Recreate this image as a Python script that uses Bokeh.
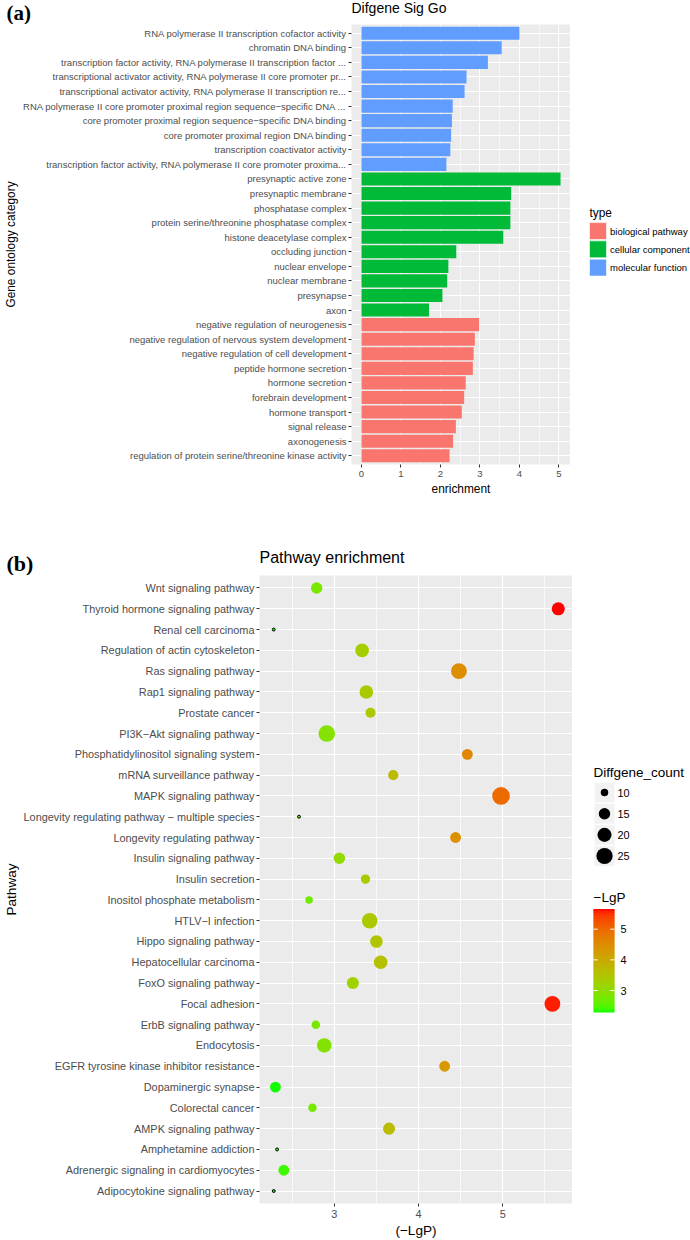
import numpy as np
from bokeh.plotting import figure
from bokeh.models import (ColumnDataSource, FactorRange, Range1d, FixedTicker,
                          LinearColorMapper)
from bokeh.layouts import column, row
from bokeh.embed import file_html
from bokeh.resources import INLINE
from bokeh.core.properties import value
from bokeh.transform import transform

FONT = "Liberation Sans"
SERIF = "Liberation Serif"

# ---------------- Panel (a) data (top to bottom) ----------------
go_terms = [
    "RNA polymerase II transcription cofactor activity",
    "chromatin DNA binding",
    "transcription factor activity, RNA polymerase II transcription factor ...",
    "transcriptional activator activity, RNA polymerase II core promoter pr...",
    "transcriptional activator activity, RNA polymerase II transcription re...",
    "RNA polymerase II core promoter proximal region sequence\u2212specific DNA ...",
    "core promoter proximal region sequence\u2212specific DNA binding",
    "core promoter proximal region DNA binding",
    "transcription coactivator activity",
    "transcription factor activity, RNA polymerase II core promoter proxima...",
    "presynaptic active zone",
    "presynaptic membrane",
    "phosphatase complex",
    "protein serine/threonine phosphatase complex",
    "histone deacetylase complex",
    "occluding junction",
    "nuclear envelope",
    "nuclear membrane",
    "presynapse",
    "axon",
    "negative regulation of neurogenesis",
    "negative regulation of nervous system development",
    "negative regulation of cell development",
    "peptide hormone secretion",
    "hormone secretion",
    "forebrain development",
    "hormone transport",
    "signal release",
    "axonogenesis",
    "regulation of protein serine/threonine kinase activity",
]
go_enrichment = [4.00, 3.55, 3.20, 2.66, 2.61, 2.31, 2.29, 2.27, 2.25, 2.15,
                 5.04, 3.79, 3.77, 3.77, 3.59, 2.40, 2.20, 2.17, 2.05, 1.71,
                 2.98, 2.87, 2.84, 2.82, 2.64, 2.60, 2.54, 2.39, 2.32, 2.23]
go_type = (["molecular function"] * 10 + ["cellular component"] * 10
           + ["biological pathway"] * 10)
type_levels = ["biological pathway", "cellular component", "molecular function"]
type_colors = ["#F8766D", "#00BA38", "#619CFF"]
enrich_ticks = [0, 1, 2, 3, 4, 5]

# ---------------- Panel (b) data (top to bottom) ----------------
pathways = [
    "Wnt signaling pathway",
    "Thyroid hormone signaling pathway",
    "Renal cell carcinoma",
    "Regulation of actin cytoskeleton",
    "Ras signaling pathway",
    "Rap1 signaling pathway",
    "Prostate cancer",
    "PI3K\u2212Akt signaling pathway",
    "Phosphatidylinositol signaling system",
    "mRNA surveillance pathway",
    "MAPK signaling pathway",
    "Longevity regulating pathway \u2212 multiple species",
    "Longevity regulating pathway",
    "Insulin signaling pathway",
    "Insulin secretion",
    "Inositol phosphate metabolism",
    "HTLV\u2212I infection",
    "Hippo signaling pathway",
    "Hepatocellular carcinoma",
    "FoxO signaling pathway",
    "Focal adhesion",
    "ErbB signaling pathway",
    "Endocytosis",
    "EGFR tyrosine kinase inhibitor resistance",
    "Dopaminergic synapse",
    "Colorectal cancer",
    "AMPK signaling pathway",
    "Amphetamine addiction",
    "Adrenergic signaling in cardiomyocytes",
    "Adipocytokine signaling pathway",
]
neg_lgp = [2.79, 5.66, 2.28, 3.33, 4.48, 3.38, 3.43, 2.91, 4.58, 3.70,
           4.98, 2.58, 4.44, 3.06, 3.37, 2.70, 3.42, 3.50, 3.55, 3.22,
           5.59, 2.78, 2.88, 4.31, 2.30, 2.74, 3.65, 2.32, 2.40, 2.28]
diffgene_count = [15, 18, 8, 19, 24, 19, 13, 26, 14, 13,
                  29, 8, 14, 15, 12, 10, 23, 17, 19, 16,
                  24, 11, 21, 14, 14, 11, 16, 8, 14, 8]
lgp_ticks = [3, 4, 5]
lgp_minor = [2.5, 3.5, 4.5, 5.5]
size_breaks = [10, 15, 20, 25]

# ---------------- colour / size scales ----------------
M = np.array([[0.4124564, 0.3575761, 0.1804375],
              [0.2126729, 0.7151522, 0.0721750],
              [0.0193339, 0.1191920, 0.9503041]])
WP = np.array([0.95047, 1.0, 1.08883])


def to_lab(rgb):
    c = np.array(rgb, dtype=float) / 255.0
    lin = np.where(c <= 0.04045, c / 12.92, ((c + 0.055) / 1.055) ** 2.4)
    t = (M @ lin) / WP
    d = 6 / 29
    f = np.where(t > d ** 3, np.cbrt(t), t / (3 * d * d) + 4 / 29)
    return np.array([116 * f[1] - 16, 500 * (f[0] - f[1]), 200 * (f[1] - f[2])])


def from_lab(lab):
    L, a, b = lab
    fy = (L + 16) / 116
    f = np.array([fy + a / 500, fy, fy - b / 200])
    d = 6 / 29
    t = np.where(f > d, f ** 3, 3 * d * d * (f - 4 / 29))
    lin = np.clip(np.linalg.inv(M) @ (t * WP), 0, 1)
    c = np.where(lin <= 0.0031308, 12.92 * lin, 1.055 * lin ** (1 / 2.4) - 0.055)
    c = np.clip(c, 0, 1)
    return "#%02x%02x%02x" % tuple(int(round(v * 255)) for v in c)


lab_lo, lab_hi = to_lab((0, 255, 0)), to_lab((255, 0, 0))
palette = [from_lab(lab_lo + (lab_hi - lab_lo) * s) for s in np.linspace(0, 1, 256)]

cmin, cmax = min(diffgene_count), max(diffgene_count)


def size_px(c):
    c = np.asarray(c, dtype=float)
    return 2.95 * (1 + 5 * np.sqrt((c - cmin) / (cmax - cmin)))


def blank(width, height, bottom=0):
    f = figure(width=width, height=height, output_backend="svg", toolbar_location=None,
               x_range=Range1d(0, width), y_range=Range1d(0, height - bottom),
               x_axis_type=None, y_axis_type=None, min_border=0,
               min_border_bottom=bottom)
    f.outline_line_color = None
    f.background_fill_color = "white"
    f.border_fill_color = "white"
    f.grid.visible = False
    return f


def txt(f, x, y, s, size, font=FONT, style="normal", color="black"):
    f.text(x=[x], y=[y], text=[s], text_font=value(font), text_font_size=f"{size}px",
           text_font_style=style, text_baseline="middle", text_align="left",
           text_color=color)


def style_axes(p, tick_px, title_px, tick_len):
    for ax in (p.xaxis[0], p.yaxis[0]):
        ax.axis_line_color = None
        ax.major_tick_line_color = "#333333"
        ax.major_tick_out = tick_len
        ax.major_tick_in = 0
        ax.minor_tick_line_color = None
        ax.major_label_text_font = FONT
        ax.major_label_text_font_size = f"{tick_px}px"
        ax.major_label_text_color = "#4D4D4D"
        ax.major_label_standoff = 2
        ax.axis_label_text_font = FONT
        ax.axis_label_text_font_size = f"{title_px}px"
        ax.axis_label_text_font_style = "normal"
        ax.axis_label_text_color = "black"
        ax.axis_label_standoff = 2
    p.background_fill_color = "#EBEBEB"
    p.border_fill_color = "white"
    p.outline_line_color = None
    p.xgrid.grid_line_color = "white"
    p.ygrid.grid_line_color = "white"
    p.xgrid.minor_grid_line_color = "white"


W = 690
HDR_A, H_A, HDR_B, H_B = 24, 474, 77, 665
BOT_A, BOT_B = 32, 35   # bottom (axis) borders of the two panels

# ---------------- Panel (a) ----------------
hdr_a = blank(W, HDR_A)
txt(hdr_a, 6, 12, "(a)", 21, SERIF, "bold")
txt(hdr_a, 351, 16.5, "Difgene Sig Go", 14)

emax = max(go_enrichment)
W_PA = 570
pa = figure(width=W_PA, height=H_A, output_backend="svg", toolbar_location=None,
            y_range=FactorRange(factors=go_terms[::-1], range_padding=0.2 / len(go_terms)),
            x_range=Range1d(-0.05 * emax, 1.05 * emax),
            min_border_left=351, min_border_right=0, min_border_top=0,
            min_border_bottom=BOT_A)
style_axes(pa, 9.5, 11.9, 3)
pa.xaxis.ticker = FixedTicker(ticks=enrich_ticks,
                              minor_ticks=[t + 0.5 for t in enrich_ticks[:-1]])
pa.xaxis.axis_label = "enrichment"
pa.yaxis.axis_label = "Gene ontology category"
pa.xgrid.grid_line_width = 1.1
pa.ygrid.grid_line_width = 1.1
pa.xgrid.minor_grid_line_width = 0.6

for lvl, col in zip(type_levels, type_colors):
    idx = [i for i, t in enumerate(go_type) if t == lvl]
    src = ColumnDataSource(dict(term=[go_terms[i] for i in idx],
                                enrichment=[go_enrichment[i] for i in idx]))
    pa.hbar(y="term", right="enrichment", left=0, height=0.9, source=src,
            fill_color=col, line_color=None)

# legend for (a) (coordinates: pixels of the panel frame, 0 = frame bottom)
lg_a = blank(W - W_PA, H_A, BOT_A)
yca = (H_A - BOT_A) / 2
key_ya = [yca + 13.5 - 18.35 * i for i in range(len(type_levels))]
src_la = ColumnDataSource(dict(x=[27.5] * 3, y=key_ya, c=type_colors, lab=type_levels,
                               lx=[39.5] * 3))
lg_a.rect(x="x", y="y", width=17, height=17, fill_color="c", line_color="white",
          line_width=0.6, source=src_la)
lg_a.text(x="lx", y="y", text="lab", source=src_la, text_font=value(FONT),
          text_font_size="9.5px", text_baseline="middle", text_align="left",
          text_color="black")
txt(lg_a, 19, yca + 31.5, "type", 11.9)

# ---------------- Panel (b) ----------------
hdr_b = blank(W, HDR_B)
txt(hdr_b, 6, 12.5, "(b)", 22, SERIF, "bold")
txt(hdr_b, 259, 18, "Pathway enrichment", 16)

lmin, lmax = min(neg_lgp), max(neg_lgp)
span = lmax - lmin
mapper = LinearColorMapper(palette=palette, low=lmin, high=lmax)
W_PB = 572
pb = figure(width=W_PB, height=H_B, output_backend="svg", toolbar_location=None,
            y_range=FactorRange(factors=pathways[::-1], range_padding=0.2 / len(pathways)),
            x_range=Range1d(lmin - 0.05 * span, lmax + 0.05 * span),
            min_border_left=259, min_border_right=0, min_border_top=0,
            min_border_bottom=BOT_B)
style_axes(pb, 10.9, 13.6, 3)
pb.xaxis.ticker = FixedTicker(ticks=lgp_ticks, minor_ticks=lgp_minor)
pb.xaxis.axis_label = "(\u2212LgP)"
pb.yaxis.axis_label = "Pathway"
pb.xgrid.grid_line_width = 1.2
pb.ygrid.grid_line_width = 1.2
pb.xgrid.minor_grid_line_width = 0.7

src_b = ColumnDataSource(dict(
    pathway=pathways, lgp=neg_lgp, count=diffgene_count,
    size=list(size_px(diffgene_count)),
    outline=[1.0 if c == cmin else 0.0 for c in diffgene_count]))
pb.scatter(x="lgp", y="pathway", size="size", source=src_b,
           fill_color=transform("lgp", mapper), line_color="black",
           line_alpha="outline", line_width=1)

# legends for (b): size legend + colour bar (frame pixel coordinates)
lg_b = blank(W - W_PB, H_B, BOT_B)
ycb = (H_B - BOT_B) / 2
key_yb = [ycb + 97.2 - 21.2 * i for i in range(len(size_breaks))]
src_lb = ColumnDataSource(dict(x=[32] * len(size_breaks), y=key_yb,
                               size=list(size_px(size_breaks)),
                               lab=[str(b) for b in size_breaks],
                               lx=[45] * len(size_breaks)))
lg_b.rect(x="x", y="y", width=21, height=21, source=src_lb, fill_color="#F2F2F2",
          line_color="white", line_width=1)
lg_b.scatter(x="x", y="y", size="size", source=src_lb, fill_color="black", line_color=None)
lg_b.text(x="lx", y="y", text="lab", source=src_lb, text_font=value(FONT),
          text_font_size="10.9px", text_baseline="middle", text_align="left",
          text_color="black")
txt(lg_b, 21, ycb + 117.8, "Diffgene_count", 13.5)

# colour bar drawn from the same colour mapper (overlapping slices, no seams)
bar_x0, bar_w, bar_h = 21, 21, 104
bar_y0 = ycb - 123.5
n_slices = 52
step = bar_h / n_slices
v = lmin + (np.arange(n_slices) + 0.5) / n_slices * span
src_cb = ColumnDataSource(dict(v=list(v),
                               bottom=list(bar_y0 + np.arange(n_slices) * step),
                               top=list(np.minimum(bar_y0 + (np.arange(n_slices) + 1) * step + 1.2,
                                                   bar_y0 + bar_h))))
lg_b.quad(left=bar_x0, right=bar_x0 + bar_w, bottom="bottom", top="top", source=src_cb,
          fill_color=transform("v", mapper), line_color=None)
tick_y = [bar_y0 + (t - lmin) / span * bar_h for t in lgp_ticks]
lg_b.segment(x0=[bar_x0] * 3, x1=[bar_x0 + 4.2] * 3, y0=tick_y, y1=tick_y,
             line_color="white", line_width=1)
lg_b.segment(x0=[bar_x0 + bar_w - 4.2] * 3, x1=[bar_x0 + bar_w] * 3, y0=tick_y, y1=tick_y,
             line_color="white", line_width=1)
lg_b.text(x=[bar_x0 + bar_w + 6] * 3, y=tick_y, text=[str(t) for t in lgp_ticks],
          text_font=value(FONT), text_font_size="10.9px", text_baseline="middle",
          text_align="left", text_color="black")
txt(lg_b, 21, bar_y0 + bar_h + 11, "\u2212LgP", 13.5)

layout = column(hdr_a, row(pa, lg_a), hdr_b, row(pb, lg_b))
open("out.html", "w").write(file_html(layout, INLINE))
